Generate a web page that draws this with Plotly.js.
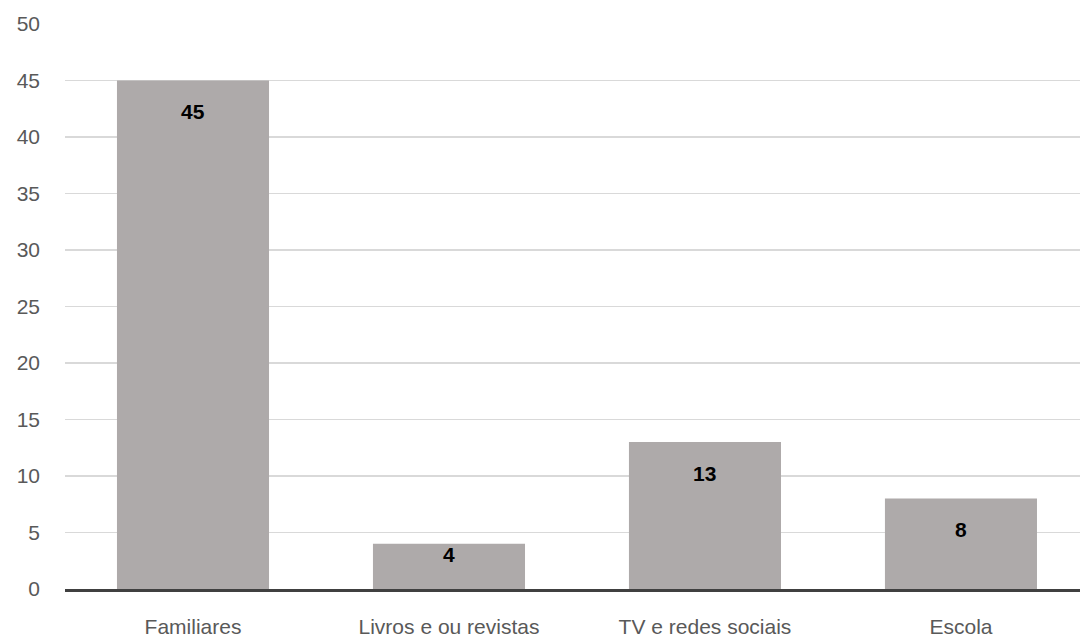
<!DOCTYPE html>
<html>
<head>
<meta charset="utf-8">
<script src="https://cdn.plot.ly/plotly-3.0.1.min.js"></script>
<style>html,body{margin:0;padding:0;background:#fff;}#chart{width:1080px;height:638px;}</style>
</head>
<body>
<div id="chart"></div>
<script>
const categories = ["Familiares", "Livros e ou revistas", "TV e redes sociais", "Escola"];
const values = [45, 4, 13, 8];
const yTicks = [0, 5, 10, 15, 20, 25, 30, 35, 40, 45, 50];

const margin = {l: 65, r: 0, t: 24, b: 49};
const plotH = 638 - margin.t - margin.b;
const yMax = 50;

const annotations = categories.map((c, i) => {
  const barPx = values[i] * plotH / yMax;
  return {
    x: c, y: values[i], xref: 'x', yref: 'y',
    text: '<b>' + values[i] + '</b>',
    showarrow: false,
    yanchor: 'middle',
    yshift: barPx < 60 ? -11 : -31,
    font: {family: 'Liberation Sans, Arial, sans-serif', size: 21, color: '#000000'}
  };
});

const trace = {
  type: 'bar',
  x: categories,
  y: values,
  width: 0.594,
  marker: {color: '#aeaaaa', line: {width: 0}},
  hoverinfo: 'skip'
};

const layout = {
  width: 1080, height: 638,
  margin: margin,
  paper_bgcolor: '#ffffff', plot_bgcolor: '#ffffff',
  showlegend: false,
  font: {family: 'Liberation Sans, Arial, sans-serif', color: '#595959'},
  xaxis: {
    type: 'category',
    range: [-0.5, 3.465],
    showgrid: false,
    showline: true, linecolor: '#404040', linewidth: 3,
    ticks: '', ticklabelstandoff: 17,
    tickfont: {size: 21, color: '#595959'},
    zeroline: false
  },
  yaxis: {
    range: [0, yMax],
    tickvals: yTicks,
    ticktext: yTicks.map(String),
    showgrid: true, gridcolor: '#d9d9d9', gridwidth: 1.5,
    zeroline: false, showline: false,
    ticks: '', ticklabelstandoff: 24,
    tickfont: {size: 21, color: '#595959'}
  },
  annotations: annotations
};

Plotly.newPlot('chart', [trace], layout, {displayModeBar: false, staticPlot: true});
</script>
</body>
</html>
